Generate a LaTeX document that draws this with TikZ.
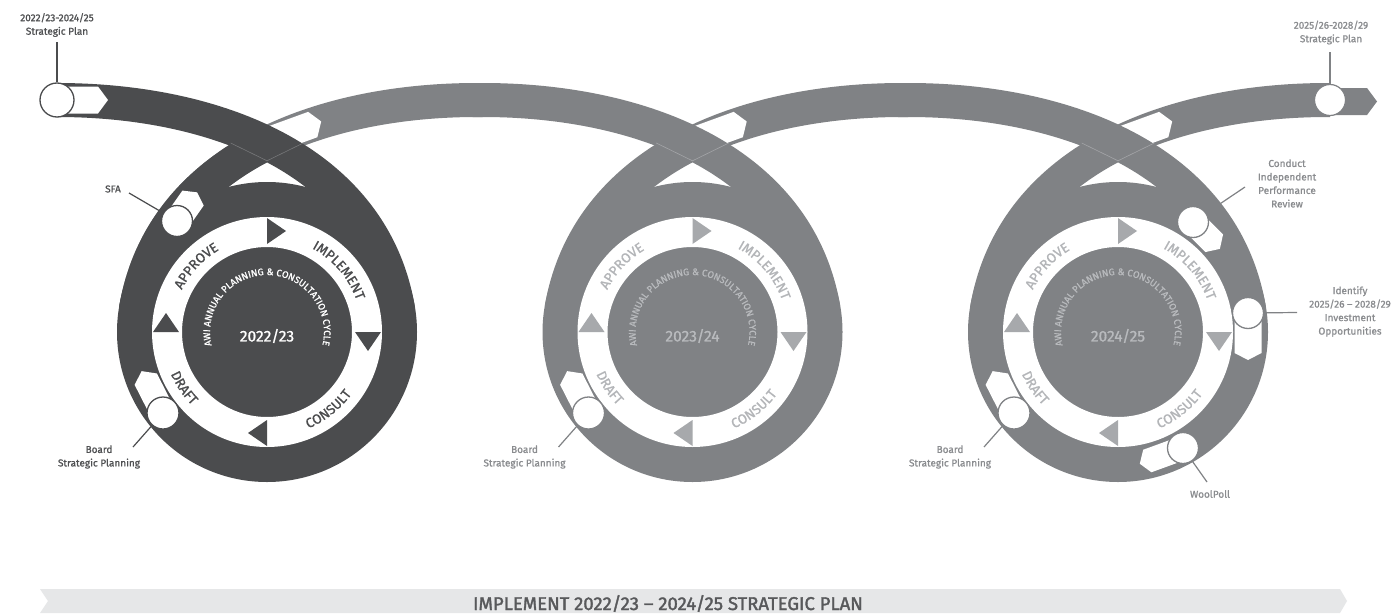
\documentclass[tikz,border=0pt]{standalone}
\usepackage{fontspec}
\setmainfont{Fira Sans}
\newfontfamily\labfont{Fira Sans}[FakeBold=1]
\newfontfamily\banfont{Fira Sans}[FakeBold=1.8]
\usetikzlibrary{decorations.text}
\definecolor{dk}{HTML}{4B4C4E}
\definecolor{gr}{HTML}{808285}
\definecolor{trig}{HTML}{A7A9AC}
\definecolor{wgr}{HTML}{B3B5B8}
\definecolor{cgr}{HTML}{B8BABD}
\definecolor{bann}{HTML}{E6E7E8}
\definecolor{banntxt}{HTML}{58595B}
\definecolor{labdk}{HTML}{4F5052}
\definecolor{labgr}{HTML}{8A8C8F}
\definecolor{edgedk}{HTML}{77787A}
\definecolor{edgegr}{HTML}{A4A5A8}
\newcommand\ringfont{\labfont\fontsize{13.5}{13.5}\selectfont}
\newcommand\centfont{\labfont\fontsize{9.5}{9.5}\selectfont}
\newcommand\InPath[1]{({#1-210},100) .. controls ({#1-50},100) and ({#1+105.9},161) .. ({#1+131},309)}
\newcommand\OutPath[1]{({#1-131},309) .. controls ({#1-105.9},161) and ({#1+50},100) .. ({#1+210},100)}
\newcommand\warrow[6]{\fill[white,shift={(#1,#2)},rotate={-(#3)}] (0,{-(#6)}) -- (#4,{-(#6)}) -- ({#4+#5},0) -- (#4,#6) -- (0,#6) -- cycle;}
\newcommand\mk[9]{\warrow{#2}{#3}{#4}{#5}{#6}{#7}
  \node[circle,draw=#8,fill=white,line width=1.3pt,minimum size=#9,inner sep=0pt] (#1) at (#2,#3) {};}
\newcommand\arctext[6]{\path[decorate,decoration={text along path,text align=center,text={|#5|#6}}]
  plot[domain=0:1,samples=80] ({#1+#2*cos((#3)+((#4)-(#3))*\x)},{332+#2*sin((#3)+((#4)-(#3))*\x)});}
\newcommand\ringparts[2]{%
  \fill[white,even odd rule] (#1,332) circle[radius=115] (#1,332) circle[radius=85];
  \fill[#2] (#1,218) -- (#1,244) -- ({#1+19},231) -- cycle;
  \fill[#2] ({#1+114},332) -- ({#1+88},332) -- ({#1+101},351) -- cycle;
  \fill[#2] (#1,446) -- (#1,420) -- ({#1-19},433) -- cycle;
  \fill[#2] ({#1-114},332) -- ({#1-88},332) -- ({#1-101},313) -- cycle;}
\newcommand\ringwords[3]{%
  \arctext{#1}{95}{190}{256}{\color{#2}\ringfont}{APPROVE}
  \arctext{#1}{95}{-78}{-3}{\color{#2}\ringfont}{IMPLEMENT}
  \arctext{#1}{105}{86}{17}{\color{#2}\ringfont}{CONSULT}
  \arctext{#1}{105}{170}{122}{\color{#2}\ringfont}{DRAFT}
  \arctext{#1}{57}{120}{420}{\color{#3}\centfont}{AWI ANNUAL PLANNING {\&} CONSULTATION CYCLE}}
\tikzset{
  ribbon/.style={line width=34pt,line cap=butt,line join=round},
  lab/.style={font=\labfont\fontsize{10}{13.5}\selectfont,align=center,inner sep=0pt},
  leader/.style={line width=1.2pt},
  yearfont/.style={font=\labfont\fontsize{15.5}{15.5}\selectfont,inner sep=0pt},
}
\begin{document}
\begin{tikzpicture}[x=1pt,y=-1pt]
\useasboundingbox (0,0) rectangle (1394,613);
\fill[white] (0,0) rectangle (1394,613);
% banner
\fill[bann] (40,589) -- (1340,589) -- (1347,601) -- (1340,613) -- (40,613) -- (48,601) -- cycle;
\node[font=\banfont\fontsize{18.5}{18.5}\selectfont,text=banntxt,inner sep=0pt] (banner) at (668,603.5) {IMPLEMENT 2022/23 – 2024/25 STRATEGIC PLAN};
% outgoing ribbons
\draw[ribbon,gr] \OutPath{267} -- (482.5,100);
\draw[ribbon,gr] \OutPath{692.5} -- (908,100);
\draw[ribbon,gr] \OutPath{1118} -- (1330,100);
\begin{scope}
  \clip \InPath{267} -- (398,600) -- (-60,600) -- (-60,100) -- cycle;
  \draw[ribbon,dk] \OutPath{267};
\end{scope}
% white arrows at crossings
\warrow{262}{143}{-20}{54}{9}{13.5}
\warrow{687.5}{143}{-20}{54}{9}{13.5}
\warrow{1113}{143}{-20}{54}{9}{13.5}
% discs
\fill[dk] (267,332) circle[radius=150];
\fill[gr] (692.5,332) circle[radius=150];
\fill[gr] (1118,332) circle[radius=150];
% incoming ribbons
\draw[ribbon,dk] \InPath{267};
\draw[ribbon,gr] (472.5,100) -- \InPath{692.5};
\draw[ribbon,gr] (898,100) -- \InPath{1118};
% thin crossing edges
\draw[edgedk,line width=0.6pt] (230.7,143) -- (267,160.8) -- (303.3,143);
\draw[edgegr,line width=0.6pt] (656.2,143) -- (692.5,160.8) -- (728.8,143);
\draw[edgegr,line width=0.6pt] (1081.7,143) -- (1118,160.8) -- (1154.3,143);
% rings
\ringparts{267}{dk}
\ringparts{692.5}{trig}
\ringparts{1118}{trig}
\ringwords{267}{dk}{white}
\ringwords{692.5}{wgr}{cgr}
\ringwords{1118}{wgr}{cgr}
\node[yearfont,text=white] (yr1) at (267,336) {2022/23};
\node[yearfont,text=cgr] (yr2) at (692.5,336) {2023/24};
\node[yearfont,text=cgr] (yr3) at (1118,336) {2024/25};
% end piece
\fill[gr] (1330,88) -- (1367,88) -- (1377,101.5) -- (1367,115) -- (1330,115) -- cycle;
\node[circle,draw=gr,fill=white,line width=1.2pt,minimum size=31pt,inner sep=0pt] (mEnd) at (1330,100) {};
% markers
\mk{mStart}{57}{100}{0}{41}{10}{13.5}{dk}{34pt}
\mk{mSFA}{177}{221}{-55}{28}{7}{13}{dk}{31pt}
\mk{mB1}{163}{413}{243}{38}{9}{12.5}{dk}{32pt}
\mk{mB2}{588.5}{413}{243}{38}{9}{12.5}{gr}{32pt}
\mk{mB3}{1014}{413}{243}{38}{9}{12.5}{gr}{32pt}
\mk{mCIP}{1193}{222}{45}{30}{8}{12.5}{gr}{31pt}
\mk{mID}{1248}{313}{90}{40}{7}{13.5}{gr}{31pt}
\mk{mWP}{1183}{448}{160}{38}{8}{12}{gr}{31pt}
% labels
\node[lab,text=labdk] (tStart) at (57,25) {2022/23-2024/25\\Strategic Plan};
\node[lab,text=labgr] (tEnd) at (1331,32.5) {2025/26-2028/29\\Strategic Plan};
\node[lab,text=labdk] (tSFA) at (113,189) {SFA};
\node[lab,text=labdk] (tB1) at (99,457) {Board\\Strategic Planning};
\node[lab,text=labgr] (tB2) at (524.5,457) {Board\\Strategic Planning};
\node[lab,text=labgr] (tB3) at (950,457) {Board\\Strategic Planning};
\node[lab,text=labgr] (tCIP) at (1287,183.5) {Conduct\\Independent\\Performance\\Review};
\node[lab,text=labgr] (tID) at (1350,311.5) {Identify\\2025/26 – 2028/29\\Investment\\Opportunities};
\node[lab,text=labgr] (tWP) at (1210,494) {WoolPoll};
% leaders
\coordinate (cStart) at (57,42);
\coordinate (cEnd) at (1330,52);
\coordinate (cSFA) at (129,193);
\coordinate (cB1) at (133,447);
\coordinate (cB2) at (558.5,447);
\coordinate (cB3) at (984,447);
\coordinate (cCIP) at (1245,187);
\coordinate (cID) at (1297,312.5);
\coordinate (cWP) at (1207,482);
\draw[leader,dk] (cStart) -- (mStart);
\draw[leader,gr] (cEnd) -- (mEnd);
\draw[leader,dk] (cSFA) -- (mSFA);
\draw[leader,dk] (cB1) -- (mB1);
\draw[leader,gr] (cB2) -- (mB2);
\draw[leader,gr] (cB3) -- (mB3);
\draw[leader,gr] (cCIP) -- (mCIP);
\draw[leader,gr] (cID) -- (mID);
\draw[leader,gr] (cWP) -- (mWP);
\end{tikzpicture}
\end{document}
